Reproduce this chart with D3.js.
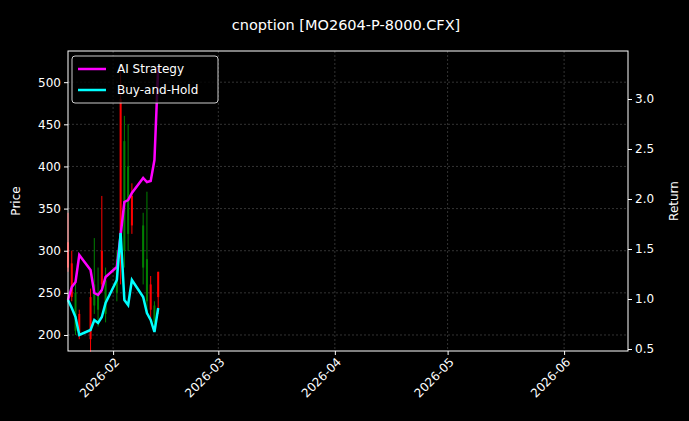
<!DOCTYPE html>
<html><head><meta charset="utf-8">
<script src="https://cdn.jsdelivr.net/npm/d3@7"></script>
<style>body{margin:0;background:#000}</style>
</head><body><div></div>
<script>
const width = 689, height = 421
const dates = ["2026-01-20","2026-01-21","2026-01-22","2026-01-23","2026-01-26","2026-01-27","2026-01-28","2026-01-29","2026-01-30",
  "2026-02-02","2026-02-03","2026-02-04","2026-02-05","2026-02-06","2026-02-09","2026-02-10","2026-02-11","2026-02-12","2026-02-13"]
const open  = [310,285,205,225,245,235,230,300,225,250,480,300,320,365,280,240,260,215,275]
const high  = [345,300,270,230,255,315,280,365,280,300,520,460,450,380,345,370,270,240,275]
const low   = [275,240,200,195,180,225,210,250,215,240,260,280,300,320,260,225,220,205,225]
const close = [280,245,250,200,195,260,250,260,265,290,300,430,400,330,330,290,230,235,245]
const aiReturn = [0.99,1.12,1.17,1.44,1.29,1.06,1.04,1.09,1.22,1.32,1.64,1.97,1.99,2.06,2.21,2.17,2.18,2.39,3.32]
const bhReturn = [0.99,0.91,0.82,0.64,0.69,0.79,0.76,0.82,0.96,1.19,1.66,0.99,0.94,1.19,1.02,0.86,0.79,0.67,0.91]
const priceTicks = [200,250,300,350,400,450,500]
const returnTicks = [0.5,1.0,1.5,2.0,2.5,3.0]
const monthTicks = ["2026-02-01","2026-03-01","2026-04-01","2026-05-01","2026-06-01"]

const parse = d3.utcParse("%Y-%m-%d")
const m = {l: 68, r: 628, t: 51, b: 351}
const font = "DejaVu Sans, sans-serif"

const svg = d3.select("div").append("svg").attr("width", width).attr("height", height)
    .style("background", "#000")

const x = d3.scaleUtc().domain([parse("2026-01-20"), parse("2026-06-18")]).range([m.l, m.r])
const yP = d3.scaleLinear().domain([181, 537]).range([m.b, m.t])
const yR = d3.scaleLinear().domain([0.48, 3.48]).range([m.b, m.t])

// grid
svg.append("g").selectAll("line").data(monthTicks).enter().append("line")
    .attr("x1", d => x(parse(d))).attr("x2", d => x(parse(d)))
    .attr("y1", m.t).attr("y2", m.b)
    .attr("stroke", "#555").attr("stroke-width", 0.6).attr("stroke-dasharray", "2,2")
svg.append("g").selectAll("line").data(priceTicks).enter().append("line")
    .attr("x1", m.l).attr("x2", m.r).attr("y1", d => yP(d)).attr("y2", d => yP(d))
    .attr("stroke", "#555").attr("stroke-width", 0.6).attr("stroke-dasharray", "2,2")

// candles
const cd = dates.map((d, i) => ({t: parse(d), o: open[i], h: high[i], l: low[i], c: close[i]}))
const cg = svg.append("g")
cg.selectAll("line").data(cd).enter().append("line")
    .attr("x1", d => x(d.t)).attr("x2", d => x(d.t))
    .attr("y1", d => yP(d.h)).attr("y2", d => yP(d.l))
    .attr("stroke", d => d.c >= d.o ? "#008000" : "#ff0000").attr("stroke-width", 1)
cg.selectAll("rect").data(cd).enter().append("rect")
    .attr("x", d => x(d.t) - 1).attr("width", 2)
    .attr("y", d => yP(Math.max(d.o, d.c))).attr("height", d => Math.abs(yP(d.o) - yP(d.c)))
    .attr("fill", d => d.c >= d.o ? "#008000" : "#ff0000")

// return lines
const line = vals => d3.line().x((d, i) => x(parse(dates[i]))).y(d => yR(d))(vals)
svg.append("path").attr("d", line(aiReturn)).attr("fill", "none").attr("stroke", "#ff00ff").attr("stroke-width", 2.5)
svg.append("path").attr("d", line(bhReturn)).attr("fill", "none").attr("stroke", "#00ffff").attr("stroke-width", 2.5)

// clip overflow above frame
svg.append("rect").attr("x", 0).attr("y", 0).attr("width", width).attr("height", m.t).attr("fill", "#000")

// frame
svg.append("rect").attr("x", m.l).attr("y", m.t).attr("width", m.r - m.l).attr("height", m.b - m.t)
    .attr("fill", "none").attr("stroke", "#fff").attr("stroke-width", 1)

// axes
const ax = svg.append("g").attr("transform", `translate(0,${m.b})`)
    .call(d3.axisBottom(x).tickValues(monthTicks.map(parse)).tickFormat(d3.utcFormat("%Y-%m")).tickSize(4))
ax.selectAll("text").attr("transform", "rotate(-45)").attr("text-anchor", "end")
    .attr("dx", "-0.3em").attr("dy", "0.5em")
const al = svg.append("g").attr("transform", `translate(${m.l},0)`)
    .call(d3.axisLeft(yP).tickValues(priceTicks).tickSize(4))
const ar = svg.append("g").attr("transform", `translate(${m.r},0)`)
    .call(d3.axisRight(yR).tickValues(returnTicks).tickFormat(d3.format(".1f")).tickSize(4))
;[ax, al, ar].forEach(g => {
    g.select(".domain").remove()
    g.selectAll("line").attr("stroke", "#fff")
    g.selectAll("text").attr("fill", "#fff").attr("font-size", 12).attr("font-family", font)
})

svg.append("text").attr("transform", `translate(20,${(m.t + m.b) / 2}) rotate(-90)`)
    .attr("text-anchor", "middle").attr("fill", "#fff").attr("font-size", 12).attr("font-family", font).text("Price")
svg.append("text").attr("transform", `translate(678,${(m.t + m.b) / 2}) rotate(-90)`)
    .attr("text-anchor", "middle").attr("fill", "#fff").attr("font-size", 12).attr("font-family", font).text("Return")
svg.append("text").attr("x", 346).attr("y", 30).attr("text-anchor", "middle")
    .attr("fill", "#fff").attr("font-size", 14.5).attr("font-family", font).text("cnoption [MO2604-P-8000.CFX]")

// legend
const lg = svg.append("g").attr("transform", "translate(72,56)")
lg.append("rect").attr("width", 146).attr("height", 47).attr("rx", 3)
    .attr("fill", "#000").attr("fill-opacity", 0.8).attr("stroke", "#ccc")
const items = [["AI Strategy", "#ff00ff"], ["Buy-and-Hold", "#00ffff"]]
lg.selectAll("g").data(items).enter().append("g")
    .attr("transform", (d, i) => `translate(0,${13 + i * 21})`)
    .each(function (d) {
        const g = d3.select(this)
        g.append("line").attr("x1", 6).attr("x2", 34).attr("stroke", d[1]).attr("stroke-width", 2.5)
        g.append("text").attr("x", 45).attr("dy", "0.35em").attr("fill", "#fff")
            .attr("font-size", 12).attr("font-family", font).text(d[0])
    })
</script>
</body></html>
